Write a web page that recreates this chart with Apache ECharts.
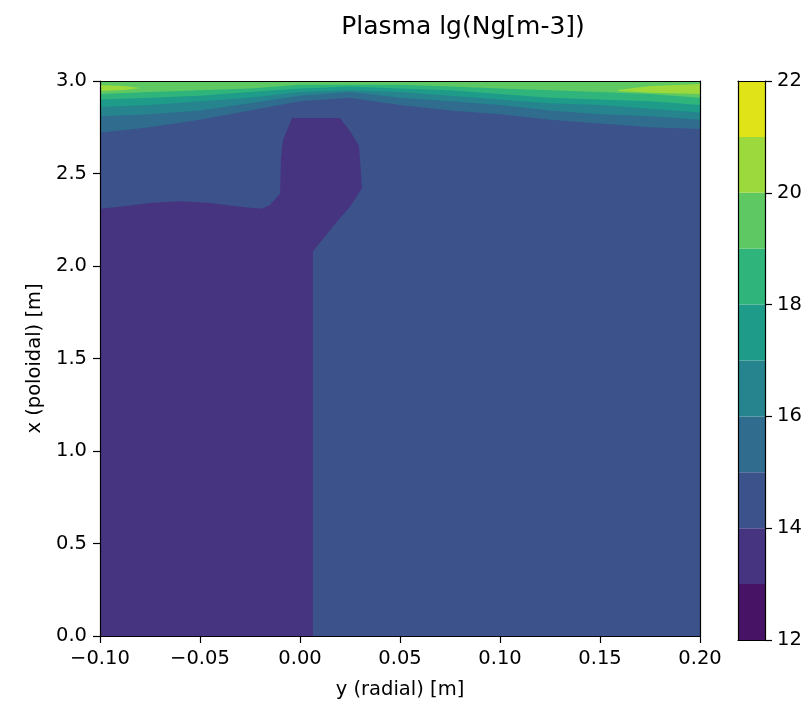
<!DOCTYPE html>
<html>
<head>
<meta charset="utf-8">
<script src="https://cdn.jsdelivr.net/npm/echarts@6/dist/echarts.min.js"></script>
<style>
  html, body { margin: 0; padding: 0; background: #fff; }
  #chart { width: 810px; height: 705px; }
</style>
</head>
<body>
<div id="chart"></div>
<script>
// contour levels of lg(Ng) and the viridis colour of each filled band
const levels = [12, 13, 14, 15, 16, 17, 18, 19, 20, 21, 22];
const bandColors = ['#471365', '#463480', '#3b528b', '#2f6c8e', '#25848e',
                    '#1e9c89', '#2fb47c', '#5ec962', '#9bd93c', '#dfe318'];

// radial positions where the upper contour lines were read
const radial = [-0.10, -0.075, -0.05, -0.025, 0.0, 0.025, 0.05, 0.075, 0.10, 0.125, 0.15, 0.175, 0.20];
// poloidal position of each contour line (level 15 .. 19) at those radial points
const contour15 = [2.72, 2.75, 2.79, 2.84, 2.89, 2.91, 2.87, 2.84, 2.82, 2.79, 2.77, 2.75, 2.74];
const contour16 = [2.81, 2.82, 2.84, 2.88, 2.92, 2.94, 2.91, 2.89, 2.87, 2.84, 2.82, 2.81, 2.79];
const contour17 = [2.86, 2.87, 2.89, 2.91, 2.94, 2.95, 2.94, 2.92, 2.90, 2.88, 2.87, 2.85, 2.83];
const contour18 = [2.90, 2.91, 2.92, 2.94, 2.96, 2.97, 2.96, 2.95, 2.93, 2.91, 2.90, 2.89, 2.87];
const contour19 = [2.93, 2.94, 2.95, 2.96, 2.98, 2.98, 2.98, 2.97, 2.96, 2.95, 2.94, 2.93, 2.91];

// region below level 14 (outline, radial / poloidal)
const lowY = [-0.100, 0.0065, 0.0065, 0.0125, 0.0185, 0.025, 0.031, 0.0295, 0.025, 0.020,
              -0.004, -0.0085, -0.0095, -0.010, -0.015, -0.019, -0.030, -0.045, -0.060, -0.075, -0.090, -0.100];
const lowX = [0.0, 0.0, 2.08, 2.16, 2.24, 2.32, 2.42, 2.65, 2.73, 2.80,
              2.80, 2.68, 2.58, 2.39, 2.33, 2.31, 2.32, 2.34, 2.35, 2.34, 2.32, 2.31];

// small patches above level 20 near the top edge
const peakLeftY = [-0.100, -0.0875, -0.080, -0.0875, -0.100];
const peakLeftX = [2.979, 2.973, 2.962, 2.952, 2.946];
const peakRightY = [0.159, 0.175, 0.200, 0.200, 0.175, 0.159];
const peakRightX = [2.952, 2.973, 2.984, 2.930, 2.936, 2.946];

const xTicks = { min: -0.10, max: 0.20, step: 0.05 };
const yTicks = { min: 0.0, max: 3.0, step: 0.5 };
const cbTickStep = 2;

const FONT = 'DejaVu Sans';

function fmt(v, d) {
  if (Math.abs(v) < 1e-9) v = 0;
  return v.toFixed(d).replace('-', '\u2212');
}

function polygonSeries(ys, xs, color) {
  return {
    type: 'custom',
    xAxisIndex: 0,
    yAxisIndex: 0,
    silent: true,
    z: 2,
    data: ys.map((y, i) => [y, xs[i]]),
    renderItem: function (params, api) {
      if (params.dataIndex !== 0) return null;
      const pts = ys.map((y, i) => api.coord([y, xs[i]]));
      return { type: 'polygon', shape: { points: pts }, style: { fill: color } };
    }
  };
}

function bandSeries(line, color) {
  const ys = radial.concat([xTicks.max, xTicks.min]);
  const xs = line.concat([yTicks.max, yTicks.max]);
  return polygonSeries(ys, xs, color);
}

const series = [];
// whole field lies in 14..15 except where noted below
series.push(polygonSeries([xTicks.min, xTicks.max, xTicks.max, xTicks.min],
                          [yTicks.min, yTicks.min, yTicks.max, yTicks.max], bandColors[2]));
series.push(polygonSeries(lowY, lowX, bandColors[1]));
series.push(bandSeries(contour15, bandColors[3]));
series.push(bandSeries(contour16, bandColors[4]));
series.push(bandSeries(contour17, bandColors[5]));
series.push(bandSeries(contour18, bandColors[6]));
series.push(bandSeries(contour19, bandColors[7]));
series.push(polygonSeries(peakLeftY, peakLeftX, bandColors[8]));
series.push(polygonSeries(peakRightY, peakRightX, bandColors[8]));

// colorbar: one block per band, from level i to level i+1
series.push({
  type: 'custom',
  xAxisIndex: 2,
  yAxisIndex: 2,
  silent: true,
  z: 2,
  data: levels.slice(0, -1).map((lo, i) => [0, lo, levels[i + 1]]),
  renderItem: function (params, api) {
    const top = api.coord([api.value(0), api.value(2)]);
    const bottom = api.coord([api.value(0), api.value(1)]);
    const w = api.size([1, 0])[0];
    return {
      type: 'rect',
      shape: { x: top[0] - w / 2, y: top[1], width: w, height: bottom[1] - top[1] },
      style: { fill: bandColors[params.dataIndex] }
    };
  }
});

const black = '#000';
const tickLabel = { color: black, fontFamily: FONT, fontSize: 19.5 };

const option = {
  backgroundColor: '#fff',
  animation: false,
  graphic: [{
    type: 'text',
    x: 463,
    y: 27,
    style: {
      text: 'Plasma lg(Ng[m-3])',
      font: '25px "DejaVu Sans"',
      fill: black,
      textAlign: 'center',
      textVerticalAlign: 'middle'
    }
  }],
  grid: [
    { left: 100, top: 81, width: 600, height: 559, containLabel: false },
    { left: 738, top: 81, width: 27, height: 559, containLabel: false }
  ],
  xAxis: [
    {
      gridIndex: 0, type: 'value', position: 'bottom',
      min: xTicks.min, max: xTicks.max, interval: xTicks.step, z: 10,
      name: 'y (radial) [m]', nameLocation: 'middle', nameGap: 44,
      nameTextStyle: { color: black, fontFamily: FONT, fontSize: 19.5 },
      axisLine: { show: true, onZero: false, lineStyle: { color: black, width: 1.2 } },
      axisTick: { show: true, length: 7, lineStyle: { color: black, width: 1.2 } },
      axisLabel: Object.assign({ margin: 13, formatter: v => fmt(v, 2) }, tickLabel),
      splitLine: { show: false }
    },
    {
      gridIndex: 0, type: 'value', position: 'top',
      min: xTicks.min, max: xTicks.max, z: 10,
      axisLine: { show: true, onZero: false, lineStyle: { color: black, width: 1.2 } },
      axisTick: { show: false }, axisLabel: { show: false }, splitLine: { show: false }
    },
    {
      gridIndex: 1, type: 'category', data: [''], z: 10,
      axisLine: { show: true, lineStyle: { color: black, width: 1.2 } },
      axisTick: { show: false }, axisLabel: { show: false }, splitLine: { show: false }
    },
    {
      gridIndex: 1, type: 'category', data: [''], position: 'top', z: 10,
      axisLine: { show: true, lineStyle: { color: black, width: 1.2 } },
      axisTick: { show: false }, axisLabel: { show: false }, splitLine: { show: false }
    }
  ],
  yAxis: [
    {
      gridIndex: 0, type: 'value', position: 'left',
      min: yTicks.min, max: yTicks.max, interval: yTicks.step, z: 10,
      name: 'x (poloidal) [m]', nameLocation: 'middle', nameGap: 49, nameRotate: 90,
      nameTextStyle: { color: black, fontFamily: FONT, fontSize: 19.5 },
      axisLine: { show: true, onZero: false, lineStyle: { color: black, width: 1.2 } },
      axisTick: { show: true, length: 7, lineStyle: { color: black, width: 1.2 } },
      axisLabel: Object.assign({ margin: 13, formatter: v => fmt(v, 1) }, tickLabel),
      splitLine: { show: false }
    },
    {
      gridIndex: 0, type: 'value', position: 'right',
      min: yTicks.min, max: yTicks.max, z: 10,
      axisLine: { show: true, onZero: false, lineStyle: { color: black, width: 1.2 } },
      axisTick: { show: false }, axisLabel: { show: false }, splitLine: { show: false }
    },
    {
      gridIndex: 1, type: 'value', position: 'right',
      min: levels[0], max: levels[levels.length - 1], interval: cbTickStep, z: 10,
      axisLine: { show: true, onZero: false, lineStyle: { color: black, width: 1.2 } },
      axisTick: { show: true, length: 7, lineStyle: { color: black, width: 1.2 } },
      axisLabel: Object.assign({ margin: 12 }, tickLabel),
      splitLine: { show: false }
    },
    {
      gridIndex: 1, type: 'value', position: 'left',
      min: levels[0], max: levels[levels.length - 1], z: 10,
      axisLine: { show: true, onZero: false, lineStyle: { color: black, width: 1.2 } },
      axisTick: { show: false }, axisLabel: { show: false }, splitLine: { show: false }
    }
  ],
  series: series
};

const chart = echarts.init(document.getElementById('chart'));
chart.setOption(option);
</script>
</body>
</html>
